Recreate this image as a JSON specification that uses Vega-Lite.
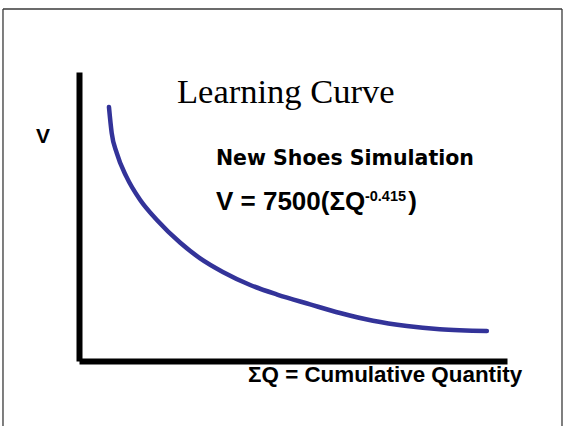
{
  "$schema": "https://vega.github.io/schema/vega-lite/v6.json",
  "width": 428,
  "height": 289,
  "autosize": {"type": "none"},
  "padding": {"left": 79, "top": 72, "right": 58, "bottom": 65},
  "background": "white",
  "config": {"view": {"stroke": null}},
  "layer": [
    {
      "data": {"values": [
        {"x": -17.76, "y": 121.8, "x2": 112.85, "y2": 121.8},
        {"x": -17.76, "y": 121.8, "x2": -17.76, "y2": -30},
        {"x": 112.85, "y": 121.8, "x2": 112.85, "y2": -30}
      ]},
      "mark": {"type": "rule", "clip": false, "color": "#3a3a3a", "strokeWidth": 1.3},
      "encoding": {
        "x": {"field": "x", "type": "quantitative"},
        "y": {"field": "y", "type": "quantitative"},
        "x2": {"field": "x2"},
        "y2": {"field": "y2"}
      }
    },
    {
      "data": {"values": [
        {"q": 7.0, "v": 87.9},
        {"q": 7.64, "v": 78.9},
        {"q": 8.81, "v": 72.0},
        {"q": 11.1, "v": 63.7},
        {"q": 14.3, "v": 55.7},
        {"q": 18.2, "v": 48.8},
        {"q": 23.6, "v": 41.0},
        {"q": 28.3, "v": 35.5},
        {"q": 33.6, "v": 30.8},
        {"q": 40.0, "v": 26.3},
        {"q": 46.3, "v": 23.0},
        {"q": 54.0, "v": 19.6},
        {"q": 61.0, "v": 16.6},
        {"q": 68.7, "v": 13.9},
        {"q": 76.6, "v": 12.1},
        {"q": 84.3, "v": 11.0},
        {"q": 95.3, "v": 10.4}
      ]},
      "mark": {"type": "line", "interpolate": "monotone", "color": "#333399", "strokeWidth": 4.5, "strokeCap": "round", "clip": false},
      "encoding": {
        "x": {"field": "q", "type": "quantitative", "scale": {"domain": [0, 100], "nice": false, "zero": false},
              "axis": {"domain": true, "domainWidth": 6, "domainColor": "black", "domainCap": "butt", "ticks": false, "labels": false, "grid": false, "title": null}},
        "y": {"field": "v", "type": "quantitative", "scale": {"domain": [0, 100], "nice": false, "zero": false},
              "axis": {"domain": true, "domainWidth": 6, "domainColor": "black", "domainCap": "butt", "ticks": false, "labels": false, "grid": false, "title": null}}
      }
    },
    {
      "data": {"values": [{"x": 22.9, "y": 89.3, "t": "Learning Curve"}]},
      "mark": {"type": "text", "align": "left", "baseline": "alphabetic", "font": "Liberation Serif", "fontSize": 34.5, "color": "black", "clip": false},
      "encoding": {"x": {"field": "x", "type": "quantitative"}, "y": {"field": "y", "type": "quantitative"}, "text": {"field": "t"}}
    },
    {
      "data": {"values": [{"x": 32.0, "y": 67.8, "t": "New Shoes Simulation"}]},
      "mark": {"type": "text", "align": "left", "baseline": "alphabetic", "font": "DejaVu Sans", "fontWeight": "bold", "fontSize": 20.5, "color": "black", "clip": false},
      "encoding": {"x": {"field": "x", "type": "quantitative"}, "y": {"field": "y", "type": "quantitative"}, "text": {"field": "t"}}
    },
    {
      "data": {"values": [{"x": 32.0, "y": 52.2, "t": "V = 7500(ΣQ"}, {"x": 76.9, "y": 52.2, "t": ")"}]},
      "mark": {"type": "text", "align": "left", "baseline": "alphabetic", "font": "Liberation Sans", "fontWeight": "bold", "fontSize": 26, "color": "black", "clip": false},
      "encoding": {"x": {"field": "x", "type": "quantitative"}, "y": {"field": "y", "type": "quantitative"}, "text": {"field": "t"}}
    },
    {
      "data": {"values": [{"x": 66.8, "y": 55.4, "t": "-0.415"}]},
      "mark": {"type": "text", "align": "left", "baseline": "alphabetic", "font": "Liberation Sans", "fontWeight": "bold", "fontSize": 14.5, "color": "black", "clip": false},
      "encoding": {"x": {"field": "x", "type": "quantitative"}, "y": {"field": "y", "type": "quantitative"}, "text": {"field": "t"}}
    },
    {
      "data": {"values": [{"x": -10.05, "y": 75.4, "t": "V"}]},
      "mark": {"type": "text", "align": "left", "baseline": "alphabetic", "font": "Liberation Sans", "fontWeight": "bold", "fontSize": 21, "color": "black", "clip": false},
      "encoding": {"x": {"field": "x", "type": "quantitative"}, "y": {"field": "y", "type": "quantitative"}, "text": {"field": "t"}}
    },
    {
      "data": {"values": [{"x": 39.5, "y": -7.27, "t": "ΣQ = Cumulative Quantity"}]},
      "mark": {"type": "text", "align": "left", "baseline": "alphabetic", "font": "Liberation Sans", "fontWeight": "bold", "fontSize": 22.4, "color": "black", "clip": false},
      "encoding": {"x": {"field": "x", "type": "quantitative"}, "y": {"field": "y", "type": "quantitative"}, "text": {"field": "t"}}
    }
  ]
}
